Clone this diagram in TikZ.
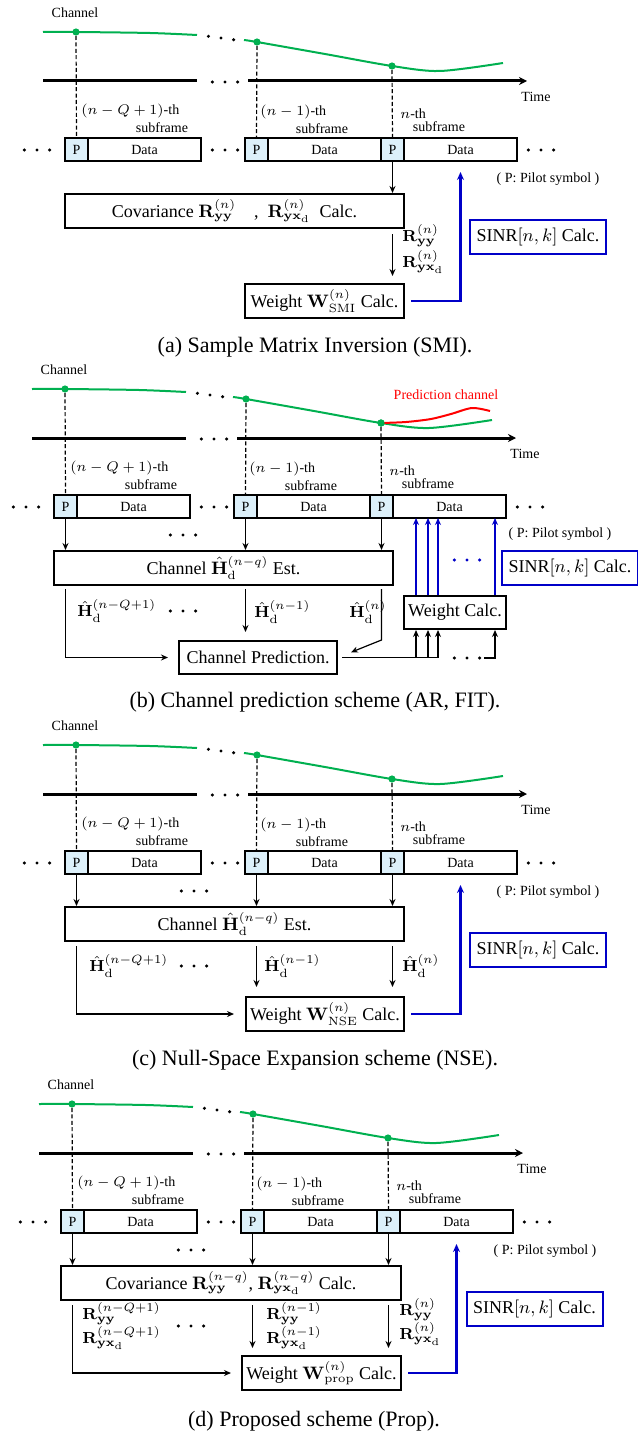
\documentclass[tikz,border=0pt]{standalone}
\usepackage[no-math]{fontspec}
\setmainfont{Liberation Serif}
\usepackage{tikz}
\usetikzlibrary{
  arrows.meta,
  positioning,
  calc
}
\definecolor{ChanGreen}{RGB}{0,176,80}
\definecolor{PredRed}{RGB}{255,0,0}
\definecolor{SinrBlue}{RGB}{0,0,200}
\definecolor{PilotFill}{RGB}{220,240,250}
\newcommand{\Ryy}[1]{\mathbf{R}^{(#1)}_{\mathbf{yy}}}
\newcommand{\Ryx}[1]{\mathbf{R}^{(#1)}_{\mathbf{yx}_{\mathrm{d}}}}
\newcommand{\Hd}[1]{\hat{\mathbf{H}}^{(#1)}_{\mathrm{d}}}
\newcommand{\dotsat}[4][black]{%
  \foreach \k in {-1,0,1} \fill[#1] (#2,#3) ++(\k*12.6,\k*#4) circle (0.85pt);}
\tikzset{
  %%── 时间轴与信道曲线 ─────────────────────────────
  chan/.style  = {line width = 1pt, color = ChanGreen},
  predc/.style = {line width = 1pt, color = PredRed},
  gdot/.style  = {circle, fill = ChanGreen, inner sep = 0pt, minimum size = 3.6pt},
  taxis/.style = {line width = 1.5pt},
  vdash/.style = {line width = 0.6pt, dash pattern = on 2pt off 1.2pt},
  %%── 文字 ─────────────────────────────────────────
  lbl/.style   = {inner sep = 0pt, font = \fontsize{7}{8}\selectfont},
  mlbl/.style  = {inner sep = 0pt, align = left, font = \fontsize{8}{12}\selectfont},
  capt/.style  = {inner sep = 0pt, font = \fontsize{11}{13}\selectfont},
  %%── 子帧格 ───────────────────────────────────────
  pcell/.style = {
    draw, line width = 1pt, fill = PilotFill,
    inner sep = 0pt, outer sep = 0pt,
    minimum width = 11.5pt, minimum height = 11.5pt,
    font = \fontsize{7}{8}\selectfont
  },
  dcell/.style = {pcell, fill = none, minimum width = 56.5pt},
  %%── 处理框 ───────────────────────────────────────
  blk/.style = {
    draw, line width = 1pt, inner sep = 0pt,
    minimum height = 17pt, font = \fontsize{9}{10}\selectfont
  },
  sinrbox/.style = {blk, draw = SinrBlue, minimum width = 68pt},
  %%── 箭头 ─────────────────────────────────────────
  arr/.style   = {-{Stealth[length = 3.5pt, width = 3pt]}, line width = 0.6pt},
  barr/.style  = {arr, color = SinrBlue},
  bline/.style = {-{Stealth[length = 4pt, width = 3.5pt]}, line width = 1.2pt, color = SinrBlue},
}
%% 每个子图共用的上半部分（信道、时间轴、子帧）
\newcommand{\timeline}{%
  \node[lbl] (chl) at (75,13) {Channel};
  \draw[chan] plot[smooth] coordinates {(43,32) (76,32) (150,33) (197,35)};
  \draw[chan] plot[smooth] coordinates {(244,40) (257,42) (325,54) (392,66) (440,71) (503,63)};
  \dotsat{221}{38}{1.7}
  \draw[taxis] (43,81) -- (197,81);
  \draw[taxis, -{Stealth[length = 4pt, width = 4pt]}] (248,81) -- (527,81);
  \dotsat{225}{82}{0}
  \node[lbl] (time) at (536,97) {Time};
  \node[pcell, anchor = north west] (p1) at (65,138) {P};
  \node[dcell, right = 0pt of p1] (d1) {Data};
  \node[pcell, anchor = north west] (p2) at (245,138) {P};
  \node[dcell, right = 0pt of p2] (d2) {Data};
  \node[pcell, right = 0pt of d2] (p3) {P};
  \node[dcell, right = 0pt of p3] (d3) {Data};
  \dotsat{37}{150}{0}
  \dotsat{225}{150}{0}
  \dotsat{541}{150}{0}
  \node[lbl, anchor = west] (n1) at (81,111) {$(n-Q+1)$-th};
  \node[lbl] (s1) at (162,128) {subframe};
  \node[lbl, anchor = west] (n2) at (260,112) {$(n-1)$-th};
  \node[lbl] (s2) at (322,129) {subframe};
  \node[lbl, anchor = west] (n3) at (400,114) {$n$-th};
  \node[lbl] (s3) at (439,127) {subframe};
  \node[gdot] (g1) at (76,32) {};
  \node[gdot] (g2) at (257,42) {};
  \node[gdot] (g3) at (392,66) {};
  \foreach \g/\p in {g1/p1, g2/p2, g3/p3} \draw[vdash] (\g) -- (\p.north);
}

\begin{document}
\begin{tikzpicture}[x = 0.5pt, y = -0.5pt]

  \useasboundingbox (0,0) rectangle (637,1434);

  %% (a) SMI
  \begin{scope}[name prefix = a-]
    \timeline
    \node[lbl] (pil) at (548,179) {( P: Pilot symbol )};
    \node[blk, minimum width = 169.5pt] (cov) at (234.5,211)
      {Covariance $\Ryy{n}$\quad,\ \ $\Ryx{n}$\ \ Calc.};
    \node[blk, minimum width = 79.5pt] (wt) at (324.5,301)
      {Weight $\mathbf{W}^{(n)}_{\mathrm{SMI}}$ Calc.};
    \node[sinrbox] (sinr) at (538,237) {SINR$[n,k]$ Calc.};
    \node[mlbl, anchor = west] (rn) at (402,249) {$\Ryy{n}$\\[1pt]$\Ryx{n}$};

    \draw[arr] (p3.south) -- (p3 |- cov.north);
    \draw[arr, shorten <= 2.5pt, shorten >= 3.5pt] (p3 |- cov.south) -- (p3 |- wt.north);
    \draw[bline, shorten <= 3pt, shorten >= 5.5pt] (wt.east) -| (d3.south);

    \node[capt] (capa) at (315,347) {(a) Sample Matrix Inversion (SMI).};
  \end{scope}

  %% (b) 信道预测
  \begin{scope}[shift = {(-11,357)}, name prefix = b-]
    \timeline
    \draw[predc] plot[smooth] coordinates {(392,66) (417,65) (442,62) (462,57) (483,51) (501,54)};
    \node[gdot] (g3r) at (392,66) {};
    \node[lbl, text = PredRed] (pcl) at (457,38) {Prediction channel};
    \node[lbl] (pil) at (571,177) {( P: Pilot symbol )};
    \node[blk, minimum width = 169.5pt] (est) at (234.5,211)
      {Channel $\Hd{n-q}$ Est.};
    \node[blk, minimum width = 51pt, minimum height = 16.5pt] (wc) at (466,255.5) {Weight Calc.};
    \node[blk, minimum width = 79pt, minimum height = 16.5pt] (pr) at (269,300.5) {Channel Prediction.};
    \node[sinrbox] (sinr) at (581,211) {SINR$[n,k]$ Calc.};
    \node[mlbl, anchor = west] (h1) at (88,254) {$\Hd{n-Q+1}$};
    \node[mlbl, anchor = west] (h2) at (265,255) {$\Hd{n-1}$};
    \node[mlbl, anchor = west] (h3) at (360,255) {$\Hd{n}$};
    \dotsat{194}{178}{0}
    \dotsat{194}{254}{0}

    \foreach \p in {p1, p2, p3} \draw[arr] (\p.south) -- (\p |- est.north);
    \draw[arr, shorten <= 1.5pt, shorten >= 5pt] (p1 |- est.south) |- (pr.west);
    \draw[arr, shorten <= 1.5pt, shorten >= 4pt] (p2 |- est.south) -- (p2 |- pr.north);
    \draw[arr, shorten <= 1.5pt, shorten >= 7pt] (p3 |- est.south) -- (p3 |- pr.north) -- (pr.east);

    %% 权重送往数据段
    \coordinate (w1) at (427,0);
    \coordinate (w2) at (439,0);
    \coordinate (w3) at (449,0);
    \coordinate (w4) at (506,0);
    \coordinate (e1) at (495,301);
    \foreach \w in {w1, w2, w3, w4} \draw[barr] (\w |- wc.north) -- (\w |- d3.south);
    \dotsat[SinrBlue]{478}{203}{0}
    \draw[line width = 0.6pt, shorten <= 2pt] (pr.east) -- (w3 |- pr.east);
    \foreach \w in {w1, w2, w3} \draw[arr] (\w |- pr.east) -- (\w |- wc.south);
    \dotsat{478}{301}{0}
    \draw[arr] (e1) -| (w4 |- wc.south);

    \node[capt] (capb) at (326,345) {(b) Channel prediction scheme (AR, FIT).};
  \end{scope}

  %% (c) NSE
  \begin{scope}[shift = {(0,713)}, name prefix = c-]
    \timeline
    \node[lbl] (pil) at (548,179) {( P: Pilot symbol )};
    \node[blk, minimum width = 169.5pt] (est) at (234.5,211)
      {Channel $\Hd{n-q}$ Est.};
    \node[blk, minimum width = 79pt] (wt) at (325,301)
      {Weight $\mathbf{W}^{(n)}_{\mathrm{NSE}}$ Calc.};
    \node[sinrbox] (sinr) at (538,237) {SINR$[n,k]$ Calc.};
    \node[mlbl, anchor = west] (h1) at (89,253) {$\Hd{n-Q+1}$};
    \node[mlbl, anchor = west] (h2) at (264,253) {$\Hd{n-1}$};
    \node[mlbl, anchor = west] (h3) at (402,253) {$\Hd{n}$};
    \dotsat{194}{178}{0}
    \dotsat{194}{253}{0}

    \foreach \p in {p1, p2, p3} \draw[arr] (\p.south) -- (\p |- est.north);
    \draw[arr, shorten <= 2pt, shorten >= 5.5pt] (p1 |- est.south) |- (wt.west);
    \draw[arr, shorten <= 2pt, shorten >= 4.5pt] (p2 |- est.south) -- (p2 |- wt.north);
    \draw[arr, shorten <= 2pt, shorten >= 4.5pt] (p3 |- est.south) -- (p3 |- wt.north);
    \draw[bline, shorten <= 3pt, shorten >= 5.5pt] (wt.east) -| (d3.south);

    \node[capt] (capc) at (315,347) {(c) Null-Space Expansion scheme (NSE).};
  \end{scope}

  %% (d) 提出的方法
  \begin{scope}[shift = {(-4,1072)}, name prefix = d-]
    \timeline
    \node[lbl] (pil) at (549,179) {( P: Pilot symbol )};
    \node[blk, minimum width = 170pt] (cov) at (235,211)
      {Covariance $\Ryy{n-q}$, $\Ryx{n-q}$ Calc.};
    \node[blk, minimum width = 79.5pt] (wt) at (325.5,301)
      {Weight $\mathbf{W}^{(n)}_{\mathrm{prop}}$ Calc.};
    \node[sinrbox] (sinr) at (538.5,237) {SINR$[n,k]$ Calc.};
    \node[mlbl, anchor = west] (r1) at (86,254) {$\Ryy{n-Q+1}$\\$\Ryx{n-Q+1}$};
    \node[mlbl, anchor = west] (r2) at (270,254) {$\Ryy{n-1}$\\$\Ryx{n-1}$};
    \node[mlbl, anchor = west] (r3) at (403,250) {$\Ryy{n}$\\$\Ryx{n}$};
    \dotsat{195}{178}{0}
    \dotsat{195}{254}{0}

    \foreach \p in {p1, p2, p3} \draw[arr] (\p.south) -- (\p |- cov.north);
    \draw[arr, shorten <= 2pt, shorten >= 5pt] (p1 |- cov.south) |- (wt.west);
    \draw[arr, shorten <= 2pt, shorten >= 3.5pt] (p2 |- cov.south) -- (p2 |- wt.north);
    \draw[arr, shorten <= 2pt, shorten >= 3.5pt] (p3 |- cov.south) -- (p3 |- wt.north);
    \draw[bline, shorten <= 3pt, shorten >= 5.5pt] (wt.east) -| (d3.south);

    \node[capt] (capd) at (318,349) {(d) Proposed scheme (Prop).};
  \end{scope}

\end{tikzpicture}
\end{document}
